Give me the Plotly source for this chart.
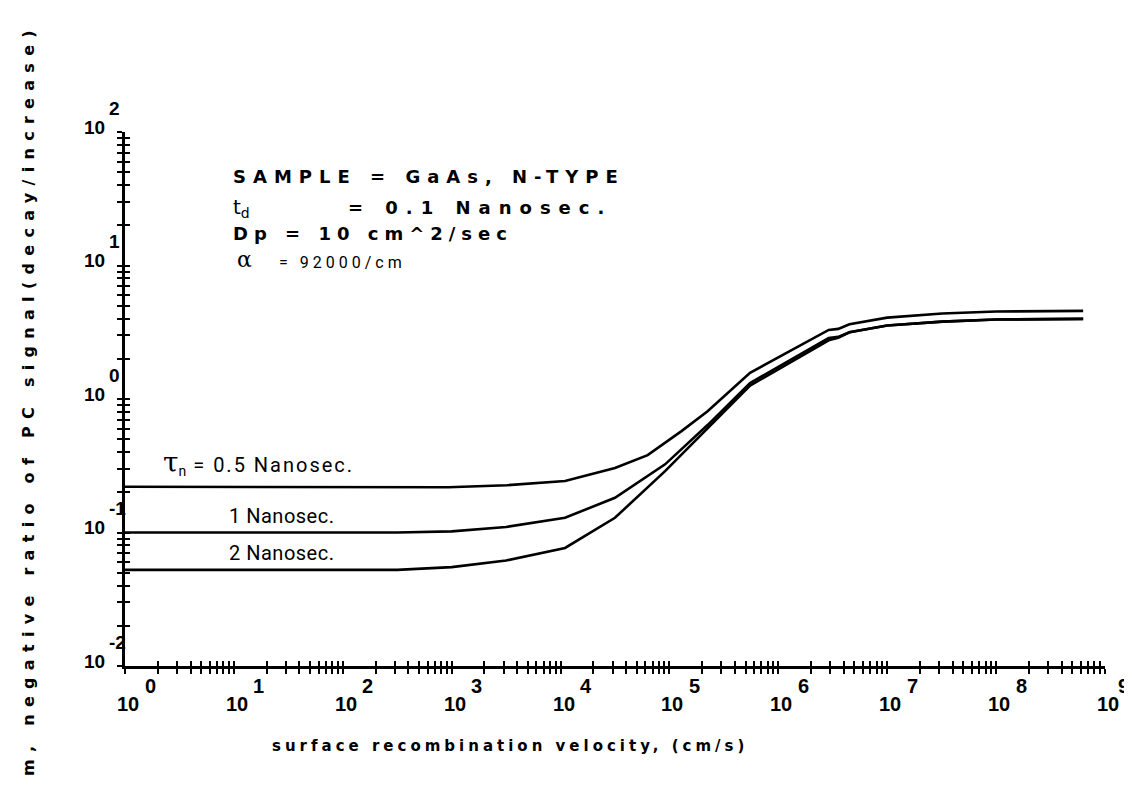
import math
import plotly.graph_objects as go

# ---- data ----
sv_05 = [1, 300, 933, 3200, 11000, 31600, 63100, 129000, 224000, 550000,
         2900000, 3550000, 4500000, 1.0e7, 3.2e7, 1.0e8, 6.3e8]
ratio_05 = [0.22, 0.22, 0.218, 0.226, 0.243, 0.304, 0.38, 0.575, 0.81, 1.57,
            3.29, 3.35, 3.63, 4.07, 4.37, 4.52, 4.57]

sv_1 = [1, 316, 1000, 3160, 11000, 31600, 91200, 224000, 550000,
        2900000, 3550000, 4500000, 1.0e7, 3.2e7, 1.0e8, 6.3e8]
ratio_1 = [0.100, 0.100, 0.102, 0.110, 0.129, 0.182, 0.324, 0.638, 1.318,
           2.86, 2.92, 3.16, 3.55, 3.80, 3.94, 3.98]

sv_2 = [1, 316, 1000, 3160, 11000, 31600, 91200, 224000, 550000,
        2900000, 3550000, 4500000, 1.0e7, 3.2e7, 1.0e8, 6.3e8]
ratio_2 = [0.0525, 0.0525, 0.055, 0.0617, 0.0766, 0.129, 0.288, 0.607, 1.26,
           2.75, 2.88, 3.16, 3.55, 3.80, 3.94, 3.98]

x_exponents = ["0", "1", "2", "3", "4", "5", "6", "7", "8", "9"]
y_exponents = ["-2", "-1", "0", "1", "2"]
x_decades = [1e0, 1e1, 1e2, 1e3, 1e4, 1e5, 1e6, 1e7, 1e8, 1e9]
y_decades = [1e-2, 1e-1, 1e0, 1e1, 1e2]

x_title = "surface recombination velocity, (cm/s)"
y_title = "m, negative ratio of PC signal(decay/increase)"

# ---- figure ----
fig = go.Figure()
line = dict(color="black", width=2.6)
fig.add_trace(go.Scatter(x=sv_05, y=ratio_05, mode="lines", line=line, hoverinfo="skip"))
fig.add_trace(go.Scatter(x=sv_1, y=ratio_1, mode="lines", line=line, hoverinfo="skip"))
fig.add_trace(go.Scatter(x=sv_2, y=ratio_2, mode="lines", line=line, hoverinfo="skip"))
# dummy trace so the overlay axes (inner half of the crossing ticks) are drawn
fig.add_trace(go.Scatter(x=[None], y=[None], xaxis="x2", yaxis="y2", hoverinfo="skip"))

x_minor = [d * k for d in x_decades[:-1] for k in range(2, 10)]
y_minor = [d * k for d in y_decades[:-1] for k in range(2, 10)]

common = dict(type="log", showgrid=False, zeroline=False, tickcolor="black",
              tickwidth=2, ticklen=5, automargin=False, showticklabels=False)

fig.update_layout(
    width=1132, height=795,
    paper_bgcolor="white", plot_bgcolor="white",
    margin=dict(l=117, r=35, t=124, b=137),
    showlegend=False,
    xaxis=dict(**common, range=[0, 9], showline=True, linecolor="black", linewidth=2.8,
               ticks="outside", tickvals=x_decades,
               minor=dict(tickvals=x_minor, ticks="outside", ticklen=5, tickwidth=2,
                          tickcolor="black", showgrid=False)),
    yaxis=dict(**common, range=[-2, 2], showline=True, linecolor="black", linewidth=2.8,
               ticks="outside", tickvals=y_decades,
               minor=dict(tickvals=y_minor, ticks="outside", ticklen=5, tickwidth=2,
                          tickcolor="black", showgrid=False)),
    xaxis2=dict(**common, range=[0, 9], overlaying="x", anchor="y2", side="bottom",
                ticks="inside", tickvals=x_decades, showline=False,
                minor=dict(tickvals=x_minor, ticks="inside", ticklen=5, tickwidth=2,
                           tickcolor="black", showgrid=False)),
    yaxis2=dict(**common, range=[-2, 2], overlaying="y", anchor="x2", side="left",
                ticks="inside", tickvals=y_decades, showline=False,
                minor=dict(tickvals=y_minor, ticks="inside", ticklen=5, tickwidth=2,
                           tickcolor="black", showgrid=False)),
)

# ---- tick labels: "10" with a raised, full-size exponent, placed on the axis scale ----
xlab_font = dict(family="Liberation Sans", size=20, color="black")
ylab_font = dict(family="Liberation Sans", size=19, color="black")
for i, (v, e) in enumerate(zip(x_decades, x_exponents)):
    lx = math.log10(v)
    last = i == len(x_decades) - 1
    fig.add_annotation(xref="x", yref="paper", x=lx, y=0, xshift=3, yshift=-38,
                       text="<b>10</b>", showarrow=False, xanchor="center",
                       yanchor="middle", font=xlab_font)
    fig.add_annotation(xref="x", yref="paper", x=lx, y=0, xshift=18 if last else 25,
                       yshift=-20, text="<b>%s</b>" % e, showarrow=False,
                       xanchor="center", yanchor="middle", font=xlab_font)
for v, e in zip(y_decades, y_exponents):
    ly = math.log10(v)
    fig.add_annotation(xref="paper", yref="y", x=0, y=ly, xshift=-18, yshift=5,
                       text="<b>10</b>", showarrow=False, xanchor="right",
                       yanchor="middle", font=ylab_font)
    fig.add_annotation(xref="paper", yref="y", x=0, y=ly, xshift=-18, yshift=24,
                       text="<b>%s</b>" % e, showarrow=False, xanchor="left",
                       yanchor="middle", font=ylab_font)

# ---- parameter block ----
plot_font = dict(family="DejaVu Sans", size=18, color="black")
ann = [
    dict(text='<b><span style="letter-spacing:7px">SAMPLE = GaAs, N-TYPE</span></b>',
         x=0.108, y=0.917, font=plot_font),
    dict(text="t<sub>d</sub>", x=0.108, y=0.858,
         font=dict(family="DejaVu Sans", size=20, color="black")),
    dict(text='<b><span style="letter-spacing:8px">= 0.1 Nanosec.</span></b>',
         x=0.226, y=0.858, font=plot_font),
    dict(text='<b><span style="letter-spacing:6px">Dp = 10 cm^2/sec</span></b>',
         x=0.108, y=0.809, font=plot_font),
    dict(text="\u03b1", x=0.112, y=0.762,
         font=dict(family="DejaVu Serif", size=22, color="black")),
    dict(text='<span style="letter-spacing:4px">= 92000/cm</span>', x=0.155, y=0.756,
         font=dict(family="Roboto", size=16, color="black")),
]
for a in ann:
    fig.add_annotation(xref="paper", yref="paper", xanchor="left", yanchor="middle",
                       showarrow=False, **a)

# ---- curve labels, sitting on their curves ----
thin_font = dict(family="Roboto", size=20, color="black")
curve_labels = [
    ("<span style='font-family:DejaVu Serif;font-size:28px'>\u03c4</span><sub>n</sub>"
     "<span style='letter-spacing:2px'> = 0.5 Nanosec.</span>", 0.33, ratio_05[0], 6),
    ("<span style='letter-spacing:0.5px'>1 Nanosec.</span>", 0.94, ratio_1[0], 3),
    ("<span style='letter-spacing:0.5px'>2 Nanosec.</span>", 0.94, ratio_2[0], 3),
]
for txt, lx, yv, ys in curve_labels:
    fig.add_annotation(xref="x", yref="y", x=lx, y=math.log10(yv),
                       xanchor="left", yanchor="bottom", yshift=ys, showarrow=False,
                       text=txt, font=thin_font)

# ---- axis titles ----
fig.add_annotation(xref="paper", yref="paper", x=0.393, y=-0.150, showarrow=False,
                   xanchor="center", yanchor="middle",
                   text='<b><span style="letter-spacing:4px">%s</span></b>' % x_title,
                   font=dict(family="DejaVu Sans", size=15, color="black"))
fig.add_annotation(xref="paper", yref="paper", x=-0.099, y=0.50, showarrow=False,
                   xanchor="center", yanchor="middle", textangle=-90,
                   text='<b><span style="letter-spacing:7.3px">%s</span></b>' % y_title,
                   font=dict(family="DejaVu Sans", size=16, color="black"))

fig.write_html("out.html")
